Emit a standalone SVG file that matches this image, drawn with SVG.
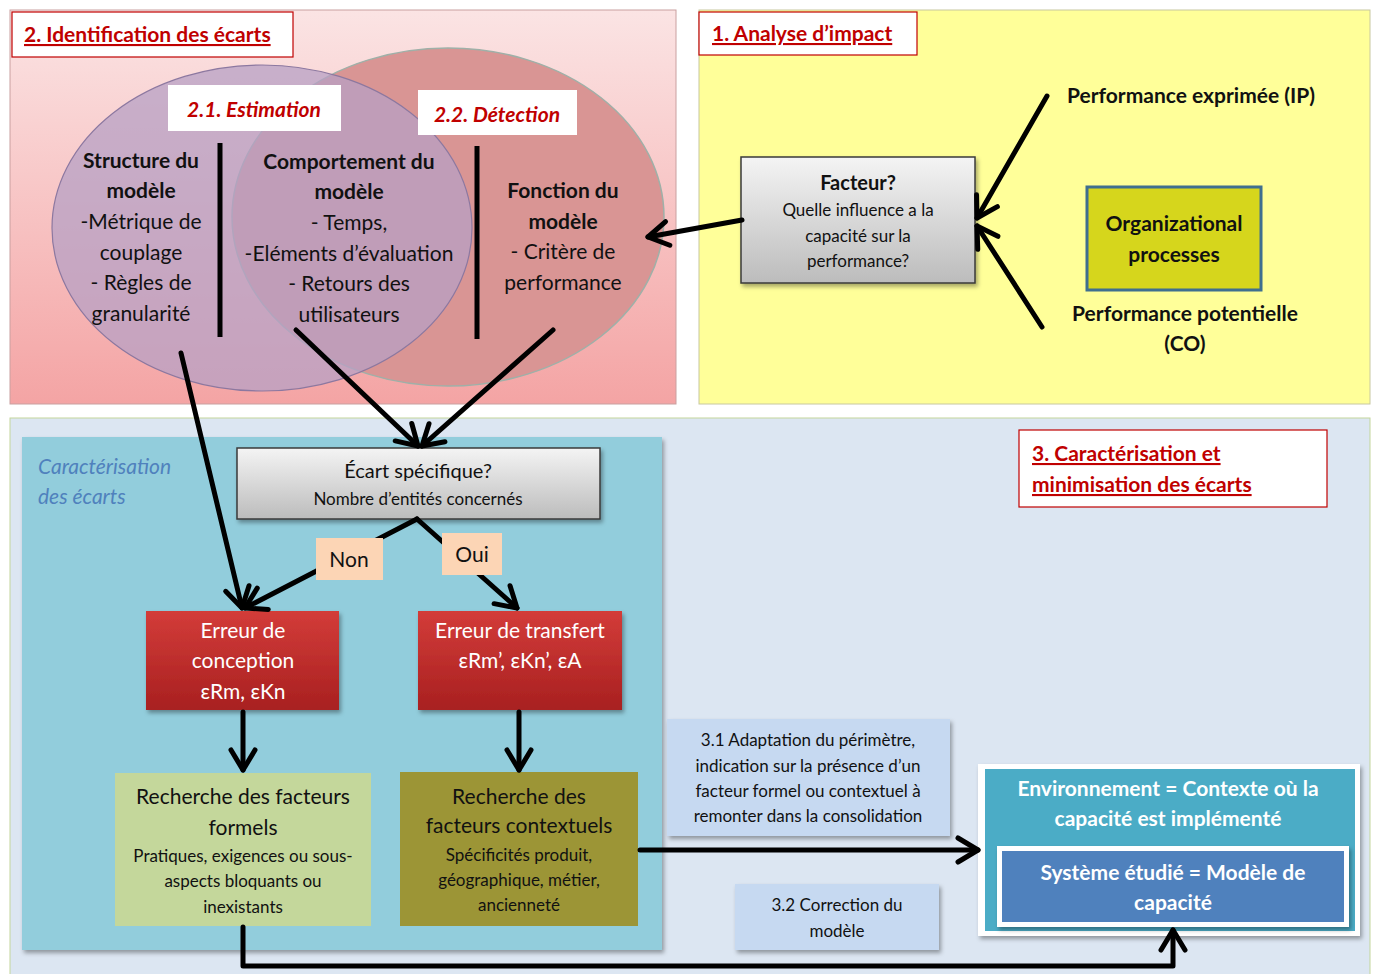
<svg xmlns="http://www.w3.org/2000/svg" width="1373" height="974" viewBox="0 0 1373 974">
  <style>
    text { font-family: Lato, "Open Sans", "Liberation Sans", sans-serif; fill: #111; text-anchor: middle; }
    .t21 { font-size: 21px; }
    .t17 { font-size: 17px; }
    .b { font-weight: bold; }
    .w { fill: #fff; }
    .title { font-size: 21px; fill: #c00000; text-decoration: underline; text-anchor: start; font-weight: bold; }
    .sub { font-size: 21px; fill: #c00000; font-style: italic; font-weight: bold; }
    .tbox { fill: #fff; stroke: #c00000; stroke-width: 1.2; }
    .conn { stroke: #000; stroke-width: 5; fill: none; stroke-linecap: round; stroke-linejoin: round; }
    .arr { marker-end: url(#chev); }
    .lab { fill: #fcd5b5; }
  </style>
  <defs>
    <linearGradient id="gPink" x1="0" y1="0" x2="0" y2="1">
      <stop offset="0" stop-color="#fbe4e4"/>
      <stop offset="1" stop-color="#f4a4a4"/>
    </linearGradient>
    <linearGradient id="gGray" x1="0" y1="0" x2="0" y2="1">
      <stop offset="0" stop-color="#f4f4f4"/>
      <stop offset="1" stop-color="#bcbcbc"/>
    </linearGradient>
    <linearGradient id="gRed" x1="0" y1="0" x2="0" y2="1">
      <stop offset="0" stop-color="#d33c39"/>
      <stop offset="1" stop-color="#a82020"/>
    </linearGradient>
    <filter id="shadow" x="-10%" y="-10%" width="130%" height="130%">
      <feDropShadow dx="2" dy="3" stdDeviation="2" flood-color="#000" flood-opacity="0.35"/>
    </filter>
    <marker id="chev" markerUnits="userSpaceOnUse" viewBox="0 0 30 30" markerWidth="30" markerHeight="30" refX="26" refY="15" orient="auto">
      <path d="M6,3 L26,15 L6,27" fill="none" stroke="#000" stroke-width="5" stroke-linecap="round" stroke-linejoin="round"/>
    </marker>
  </defs>

  <rect width="1373" height="974" fill="#fff"/>

  <!-- Section 2: identification -->
  <g id="section-identification">
    <rect x="10" y="10" width="666" height="394" fill="url(#gPink)" stroke="#c9a0a0" stroke-width="1"/>
    <rect class="tbox" x="12" y="12" width="281" height="45"/>
    <text class="title" x="24" y="42">2. Identification des écarts</text>
  </g>

  <!-- Section 1: impact -->
  <g id="section-impact">
    <rect x="699" y="10" width="671" height="394" fill="#ffff99" stroke="#c8c8a0" stroke-width="1"/>
    <rect class="tbox" x="699" y="12" width="218" height="43"/>
    <text class="title" x="712" y="41">1. Analyse d’impact</text>
  </g>

  <!-- Section 3: characterisation -->
  <g id="section-characterisation">
    <rect x="10" y="418" width="1360" height="560" fill="#dce6f2" stroke="#c3d69b" stroke-width="1"/>
    <rect class="tbox" x="1019" y="430" width="308" height="77"/>
    <text class="title" x="1032" y="461">3. Caractérisation et</text>
    <text class="title" x="1032" y="492">minimisation des écarts</text>
  </g>

  <g id="panel-ecarts">
    <rect x="22" y="437" width="640" height="513" fill="#92cddc" filter="url(#shadow)"/>
    <text x="38" y="474" style="font-size:21px;font-style:italic;fill:#4f81bd;text-anchor:start">Caractérisation</text>
    <text x="38" y="504" style="font-size:21px;font-style:italic;fill:#4f81bd;text-anchor:start">des écarts</text>
  </g>

  <!-- Venn diagram -->
  <g id="venn-detection">
    <ellipse cx="448" cy="217" rx="216" ry="169" fill="#d99594" stroke="#9fb0a8" stroke-width="1.5"/>
  </g>
  <g id="venn-estimation">
    <ellipse cx="262" cy="228" rx="210" ry="163" fill="#b7a0c4" fill-opacity="0.75" stroke="#8c78a0" stroke-width="1.2"/>
  </g>

  <g id="label-estimation">
    <rect x="168" y="85" width="173" height="46" fill="#fff"/>
    <text class="sub" x="254" y="117">2.1. Estimation</text>
  </g>
  <g id="label-detection">
    <rect x="418" y="90" width="159" height="45" fill="#fff"/>
    <text class="sub" x="497" y="122">2.2. Détection</text>
  </g>

  <g id="dividers">
    <line x1="220" y1="143" x2="220" y2="337" stroke="#000" stroke-width="5"/>
    <line x1="477" y1="146" x2="477" y2="339" stroke="#000" stroke-width="5"/>
  </g>

  <g id="structure">
    <text class="t21 b" x="141" y="168">Structure du</text>
    <text class="t21 b" x="141" y="198">modèle</text>
    <text class="t21" x="141" y="229">-Métrique de</text>
    <text class="t21" x="141" y="260">couplage</text>
    <text class="t21" x="141" y="290">- Règles de</text>
    <text class="t21" x="141" y="321">granularité</text>
  </g>
  <g id="comportement">
    <text class="t21 b" x="349" y="169">Comportement du</text>
    <text class="t21 b" x="349" y="199">modèle</text>
    <text class="t21" x="349" y="230">- Temps,</text>
    <text class="t21" x="349" y="261">-Eléments d’évaluation</text>
    <text class="t21" x="349" y="291">- Retours des</text>
    <text class="t21" x="349" y="322">utilisateurs</text>
  </g>
  <g id="fonction">
    <text class="t21 b" x="563" y="198">Fonction du</text>
    <text class="t21 b" x="563" y="229">modèle</text>
    <text class="t21" x="563" y="259">- Critère de</text>
    <text class="t21" x="563" y="290">performance</text>
  </g>

  <!-- Impact analysis nodes -->
  <g id="facteur">
    <rect x="741" y="157" width="234" height="126" fill="url(#gGray)" stroke="#3a3a3a" stroke-width="1.5" filter="url(#shadow)"/>
    <text class="b" x="858" y="190" style="font-size:20px">Facteur?</text>
    <text class="t17" x="858" y="216">Quelle influence a la</text>
    <text class="t17" x="858" y="242">capacité sur la</text>
    <text class="t17" x="858" y="267">performance?</text>
  </g>
  <g id="organizational-processes">
    <rect x="1087" y="187" width="174" height="103" fill="#d6d61c" stroke="#3f6f8f" stroke-width="3"/>
    <text class="t21 b" x="1174" y="231">Organizational</text>
    <text class="t21 b" x="1174" y="262">processes</text>
  </g>
  <g id="performance-exprimee">
    <text class="t21 b" x="1191" y="103">Performance exprimée (IP)</text>
  </g>
  <g id="performance-potentielle">
    <text class="t21 b" x="1185" y="321">Performance potentielle</text>
    <text class="t21 b" x="1185" y="351">(CO)</text>
  </g>

  <!-- Flow nodes -->
  <g id="ecart">
    <rect x="237" y="448" width="363" height="71" fill="url(#gGray)" stroke="#3a3a3a" stroke-width="1.5" filter="url(#shadow)"/>
    <text x="418" y="478" style="font-size:20px">Écart spécifique?</text>
    <text class="t17" x="418" y="505">Nombre d’entités concernés</text>
  </g>
  <g id="erreur-conception">
    <rect x="146" y="611" width="193" height="99" fill="url(#gRed)" filter="url(#shadow)"/>
    <text class="t21 w" x="243" y="638">Erreur de</text>
    <text class="t21 w" x="243" y="668">conception</text>
    <text class="t21 w" x="243" y="699">εRm, εKn</text>
  </g>
  <g id="erreur-transfert">
    <rect x="418" y="611" width="204" height="99" fill="url(#gRed)" filter="url(#shadow)"/>
    <text class="t21 w" x="520" y="638">Erreur de transfert</text>
    <text class="t21 w" x="520" y="668">εRm’, εKn’, εA</text>
  </g>
  <g id="facteurs-formels">
    <rect x="115" y="773" width="256" height="153" fill="#c4d79b"/>
    <text class="t21" x="243" y="804">Recherche des facteurs</text>
    <text class="t21" x="243" y="835">formels</text>
    <text class="t17" x="243" y="862">Pratiques, exigences ou sous-</text>
    <text class="t17" x="243" y="887">aspects bloquants ou</text>
    <text class="t17" x="243" y="913">inexistants</text>
  </g>
  <g id="facteurs-contextuels">
    <rect x="400" y="772" width="238" height="154" fill="#9c9536"/>
    <text class="t21" x="519" y="804">Recherche des</text>
    <text class="t21" x="519" y="833">facteurs contextuels</text>
    <text class="t17" x="519" y="861">Spécificités produit,</text>
    <text class="t17" x="519" y="886">géographique, métier,</text>
    <text class="t17" x="519" y="911">ancienneté</text>
  </g>
  <g id="adaptation">
    <rect x="667" y="719" width="283" height="117" fill="#c6d9f1" filter="url(#shadow)"/>
    <text class="t17" x="808" y="746">3.1 Adaptation du périmètre,</text>
    <text class="t17" x="808" y="772">indication sur la présence d’un</text>
    <text class="t17" x="808" y="797">facteur formel ou contextuel à</text>
    <text class="t17" x="808" y="822">remonter dans la consolidation</text>
  </g>
  <g id="correction">
    <rect x="735" y="884" width="204" height="66" fill="#c6d9f1" filter="url(#shadow)"/>
    <text class="t17" x="837" y="911">3.2 Correction du</text>
    <text class="t17" x="837" y="937">modèle</text>
  </g>
  <g id="environnement">
    <rect x="978" y="764" width="382" height="172" fill="#fff" filter="url(#shadow)"/>
    <rect x="985" y="769" width="370" height="162" fill="#4bacc6"/>
    <text class="t21 b w" x="1168" y="796">Environnement = Contexte où la</text>
    <text class="t21 b w" x="1168" y="826">capacité est implémenté</text>
  </g>
  <g id="systeme">
    <rect x="997" y="846" width="352" height="81" fill="#fff" filter="url(#shadow)"/>
    <rect x="1002" y="851" width="342" height="71" fill="#4f81bd"/>
    <text class="t21 b w" x="1173" y="880">Système étudié = Modèle de</text>
    <text class="t21 b w" x="1173" y="910">capacité</text>
  </g>

  <!-- Connectors -->
  <g id="connectors">
    <line class="conn arr" x1="742" y1="220" x2="648" y2="237"/>
    <line class="conn arr" x1="1047" y1="96" x2="977" y2="218"/>
    <line class="conn arr" x1="1042" y1="327" x2="977" y2="226"/>
    <line class="conn arr" x1="181" y1="353" x2="242" y2="608"/>
    <line class="conn arr" x1="296" y1="330" x2="418" y2="446"/>
    <line class="conn arr" x1="553" y1="330" x2="422" y2="446"/>
    <line class="conn arr" x1="417" y1="519" x2="245" y2="608"/>
    <line class="conn arr" x1="417" y1="519" x2="517" y2="608"/>
    <line class="conn arr" x1="243" y1="712" x2="243" y2="770"/>
    <line class="conn arr" x1="519" y1="712" x2="519" y2="770"/>
    <line class="conn arr" x1="640" y1="850" x2="978" y2="850"/>
    <path class="conn arr" d="M243,927 V966 H1173 V930"/>
    <rect class="lab" x="316" y="538" width="67" height="42"/>
    <text class="t21" x="349" y="567">Non</text>
    <rect class="lab" x="442" y="533" width="60" height="42"/>
    <text class="t21" x="472" y="562">Oui</text>
  </g>
</svg>
